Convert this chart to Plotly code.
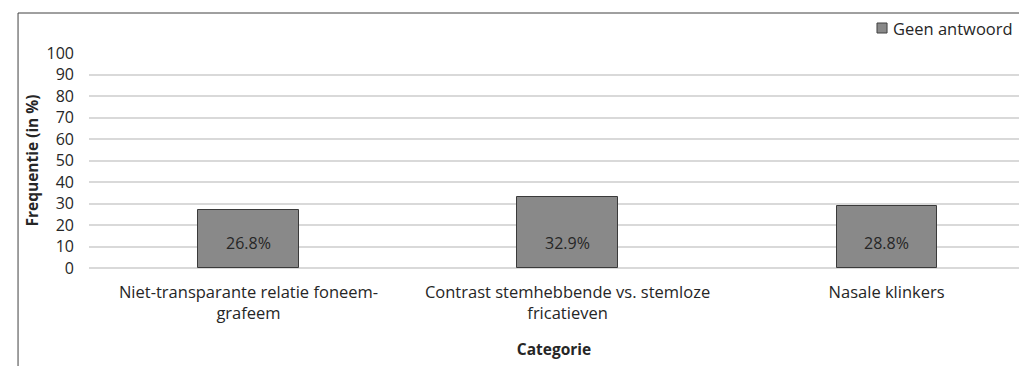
import plotly.graph_objects as go

# Data
categories = [
    "Niet-transparante relatie foneem-grafeem",
    "Contrast stemhebbende vs. stemloze fricatieven",
    "Nasale klinkers",
]
tick_labels = [
    "Niet-transparante relatie foneem-<br>grafeem",
    "Contrast stemhebbende vs. stemloze<br>fricatieven",
    "Nasale klinkers",
]
series_name = "Geen antwoord"
geen_antwoord = [26.8, 32.9, 28.8]
y_ticks = [0, 10, 20, 30, 40, 50, 60, 70, 80, 90, 100]

FONT = "Open Sans, sans-serif"
TEXT_COLOR = "#262626"
BAR_FILL = "#898989"
BAR_EDGE = "#3a3a3a"
LABEL_Y = 11.5  # height at which value labels sit inside the bars

fig = go.Figure()
fig.add_trace(
    go.Bar(
        x=categories,
        y=geen_antwoord,
        name=series_name,
        width=0.314,
        marker=dict(color=BAR_FILL, line=dict(color=BAR_EDGE, width=1)),
        hoverinfo="skip",
        showlegend=False,
    )
)

for cat, val in zip(categories, geen_antwoord):
    fig.add_annotation(
        x=cat, y=LABEL_Y, xref="x", yref="y",
        text=f"{val:.1f}%", showarrow=False,
        font=dict(family=FONT, size=16, color=TEXT_COLOR),
    )

# Legend key: small swatch followed by the series name
fig.add_shape(type="rect", xref="paper", yref="paper",
              x0=0.8473, x1=0.8581, y0=1.093, y1=1.1395,
              fillcolor=BAR_FILL, line=dict(color="#404040", width=1))
fig.add_annotation(
    x=0.8624, y=1.116, xref="paper", yref="paper",
    xanchor="left", yanchor="middle", showarrow=False,
    text=series_name, font=dict(family=FONT, size=16.5, color=TEXT_COLOR),
)

# Outer chart frame (top and left edges)
frame = dict(color="#404040", width=1)
fig.add_shape(type="line", xref="paper", yref="paper",
              x0=-0.0763, x1=1.0, y0=1.186, y1=1.186, line=frame)
fig.add_shape(type="line", xref="paper", yref="paper",
              x0=-0.0763, x1=-0.0763, y0=1.186, y1=-0.46, line=frame)

fig.update_layout(
    width=1019,
    height=366,
    margin=dict(l=89, r=0, t=53, b=98),
    paper_bgcolor="white",
    plot_bgcolor="white",
    font=dict(family=FONT, size=15, color=TEXT_COLOR),
    showlegend=False,
    bargap=0,
)

fig.update_xaxes(
    type="category",
    categoryorder="array",
    categoryarray=categories,
    tickvals=categories,
    ticktext=tick_labels,
    range=[-0.5, 2.415],
    showgrid=False,
    showline=False,
    ticks="",
    ticklabelstandoff=12,
    tickfont=dict(family=FONT, size=16.5, color=TEXT_COLOR),
    title=dict(text="<b>Categorie</b>", font=dict(family=FONT, size=15.5, color=TEXT_COLOR), standoff=21),
)

fig.update_yaxes(
    range=[0, 100],
    tickvals=y_ticks,
    showgrid=True,
    gridcolor="#d9d9d9",
    gridwidth=1.5,
    zeroline=True,
    zerolinecolor="#d9d9d9",
    zerolinewidth=1.5,
    showline=False,
    ticks="",
    ticklabelstandoff=14,
    tickfont=dict(family=FONT, size=16, color=TEXT_COLOR),
    title=dict(text="<b>Frequentie (in %)</b>", font=dict(family=FONT, size=15.5, color=TEXT_COLOR), standoff=4),
)

fig.write_html("out.html")
